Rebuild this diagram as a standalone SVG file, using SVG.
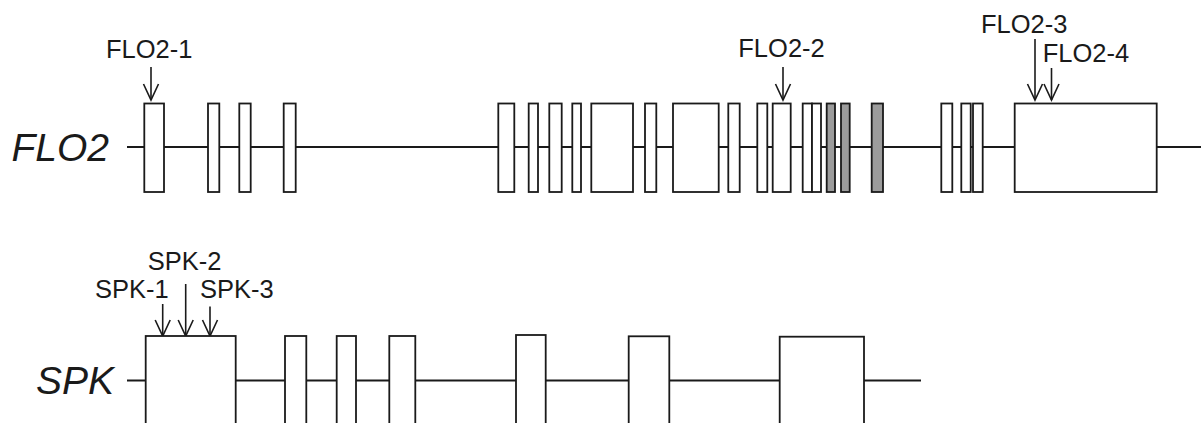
<svg xmlns="http://www.w3.org/2000/svg" width="1204" height="423" viewBox="0 0 1204 423">
<style>
.ex{fill:#fff;stroke:#1a1a1a;stroke-width:1.8}
.gr{fill:#9c9c9c;stroke:#1a1a1a;stroke-width:1.8}
.ln{stroke:#1a1a1a;stroke-width:1.8;fill:none}
.ar{stroke:#1a1a1a;stroke-width:1.6;fill:none;marker-end:url(#ah)}
.lb{font-family:"Liberation Sans",Arial,sans-serif;font-size:25.5px;fill:#1a1a1a}
.gn{font-family:"Liberation Sans",Arial,sans-serif;font-size:39px;font-style:italic;fill:#1a1a1a}
</style>
<defs>
<marker id="ah" markerUnits="userSpaceOnUse" viewBox="-18 -10 20 20" markerWidth="20" markerHeight="20" refX="0" refY="0" orient="auto" overflow="visible">
<path d="M-16,-7.5 L0,0 L-16,7.5" fill="none" stroke="#1a1a1a" stroke-width="1.6"/>
</marker>
</defs>
<rect width="1204" height="423" fill="#fff"/>
<g id="connectors">
<line class="ln" x1="127" y1="147" x2="1201" y2="147"/>
<line class="ln" x1="127" y1="380.5" x2="921" y2="380.5"/>
<line class="ar" x1="151" y1="67" x2="151" y2="100"/>
<line class="ar" x1="783" y1="67" x2="783" y2="100"/>
<line class="ar" x1="1035" y1="39" x2="1035" y2="100"/>
<line class="ar" x1="1051.5" y1="68" x2="1051.5" y2="100"/>
<line class="ar" x1="162.7" y1="304" x2="162.7" y2="336"/>
<line class="ar" x1="185.7" y1="284" x2="185.7" y2="336"/>
<line class="ar" x1="210" y1="306.5" x2="210" y2="336"/>
</g>
<g id="FLO2">
<text class="gn" x="11.5" y="161">FLO2</text>
<rect class="ex" x="144.3" y="103.5" width="19.7" height="88.5"/>
<rect class="ex" x="208" y="103.5" width="11.3" height="88.5"/>
<rect class="ex" x="239.3" y="103.5" width="11.4" height="88.5"/>
<rect class="ex" x="283.7" y="103.5" width="12" height="88.5"/>
<rect class="ex" x="498.3" y="103.5" width="16" height="88.5"/>
<rect class="ex" x="528.7" y="103.5" width="9.3" height="88.5"/>
<rect class="ex" x="549.3" y="103.5" width="12.4" height="88.5"/>
<rect class="ex" x="572.3" y="103.5" width="8.7" height="88.5"/>
<rect class="ex" x="591.3" y="103.5" width="41.7" height="88.5"/>
<rect class="ex" x="645" y="103.5" width="11.3" height="88.5"/>
<rect class="ex" x="673" y="103.5" width="45.7" height="88.5"/>
<rect class="ex" x="728.3" y="103.5" width="11.4" height="88.5"/>
<rect class="ex" x="757.3" y="103.5" width="10" height="88.5"/>
<rect class="ex" x="772.7" y="103.5" width="18" height="88.5"/>
<rect class="ex" x="802.7" y="103.5" width="9.3" height="88.5"/>
<rect class="ex" x="812" y="103.5" width="9" height="88.5"/>
<rect class="gr" x="826.7" y="103.5" width="8.3" height="88.5"/>
<rect class="gr" x="841" y="103.5" width="8.7" height="88.5"/>
<rect class="gr" x="871.7" y="103.5" width="11.3" height="88.5"/>
<rect class="ex" x="941.3" y="103.5" width="11" height="88.5"/>
<rect class="ex" x="961.3" y="103.5" width="9.4" height="88.5"/>
<rect class="ex" x="973" y="103.5" width="9.7" height="88.5"/>
<rect class="ex" x="1014.7" y="103.5" width="142" height="88.5"/>
<text class="lb" x="106" y="57.5">FLO2-1</text>
<text class="lb" x="738.3" y="56.5">FLO2-2</text>
<text class="lb" x="981" y="33.3">FLO2-3</text>
<text class="lb" x="1042.7" y="61.7">FLO2-4</text>
</g>
<g id="SPK">
<text class="gn" x="36" y="394.3">SPK</text>
<rect class="ex" x="145.7" y="336" width="90" height="100"/>
<rect class="ex" x="285" y="336" width="21.3" height="100"/>
<rect class="ex" x="336.7" y="336" width="19.3" height="100"/>
<rect class="ex" x="389.3" y="336" width="26" height="100"/>
<rect class="ex" x="516" y="335" width="29.7" height="100"/>
<rect class="ex" x="628.7" y="336.3" width="40.6" height="100"/>
<rect class="ex" x="779.7" y="336.7" width="84.3" height="100"/>
<text class="lb" x="95" y="298.3">SPK-1</text>
<text class="lb" x="147.7" y="270">SPK-2</text>
<text class="lb" x="200" y="298.3">SPK-3</text>
</g>
</svg>
